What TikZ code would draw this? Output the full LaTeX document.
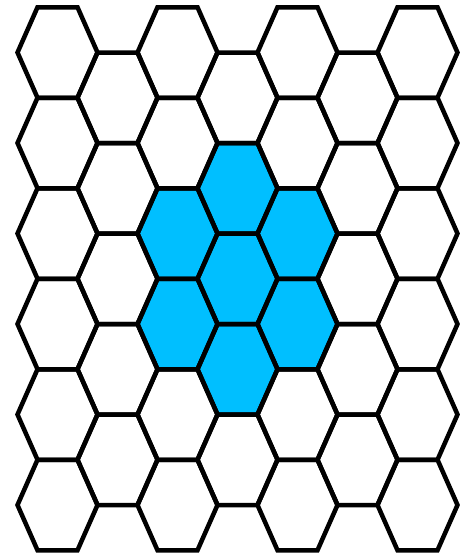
\documentclass[tikz,border=0pt]{standalone}
\definecolor{hexblue}{RGB}{0,191,255}
\tikzset{
  hexline/.style={line width=4.5pt, line join=miter, draw=black},
  hexfill/.style={fill=hexblue}
}
\def\hexat#1#2{(#1-40,#2) -- (#1-20,#2-45.25) -- (#1+20,#2-45.25) -- (#1+40,#2) -- (#1+20,#2+45.25) -- (#1-20,#2+45.25) -- cycle}
\begin{document}
\begin{tikzpicture}[x=1pt,y=-1pt]
\useasboundingbox (0,0) rectangle (471,557);
\clip (0,0) rectangle (471,557);
% blue cells
\foreach \i/\j in {2/2,2/3,4/2,4/3,3/1,3/2,3/3} {
  \pgfmathsetmacro\cx{57.5+60*\i}
  \pgfmathsetmacro\cy{52.5+90.5*\j+45.25*mod(\i,2)}
  \fill[hexfill] \hexat{\cx}{\cy};
}
% grid: even columns 6 cells, odd columns 5 cells
\foreach \i in {0,2,4,6} {
  \foreach \j in {0,...,5} {
    \pgfmathsetmacro\cx{57.5+60*\i}
    \pgfmathsetmacro\cy{52.5+90.5*\j}
    \draw[hexline] \hexat{\cx}{\cy};
  }
}
\foreach \i in {1,3,5} {
  \foreach \j in {0,...,4} {
    \pgfmathsetmacro\cx{57.5+60*\i}
    \pgfmathsetmacro\cy{52.5+90.5*\j+45.25}
    \draw[hexline] \hexat{\cx}{\cy};
  }
}
\end{tikzpicture}
\end{document}
